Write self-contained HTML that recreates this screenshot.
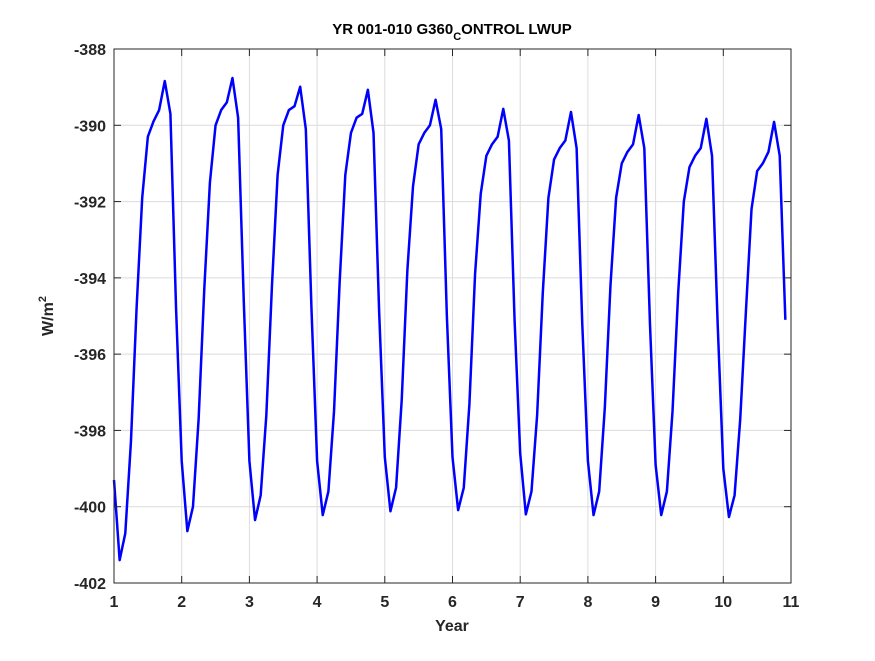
<!DOCTYPE html>
<html><head><meta charset="utf-8"><style>
body{margin:0;background:#fff;}
svg text{font-family:"Liberation Sans","DejaVu Sans",sans-serif;}
</style></head><body>
<svg id="chart" width="875" height="656" viewBox="0 0 875 656" xmlns="http://www.w3.org/2000/svg">
<rect width="875" height="656" fill="#fff"/>
<g id="grid"></g>
<g id="series"></g>
<rect x="114" y="49" width="677" height="534" fill="none" stroke="#262626" stroke-width="1"/>
<g id="ticks"></g>
<text x="452" y="34" text-anchor="middle" font-size="15" font-weight="bold" fill="#000">YR 001-010 G360<tspan font-size="11" dy="6">C</tspan><tspan dy="-6">ONTROL LWUP</tspan></text>
<text x="452" y="631" text-anchor="middle" font-size="16" font-weight="bold" fill="#262626">Year</text>
<text transform="translate(53,316) rotate(-90)" text-anchor="middle" font-size="16" font-weight="bold" fill="#262626">W/m<tspan font-size="11" dy="-7">2</tspan></text>
</svg>
<script>
const xTicks=[1,2,3,4,5,6,7,8,9,10,11];
const yTicks=[-388,-390,-392,-394,-396,-398,-400,-402];
const lwup=[
-399.3,-401.4,-400.7,-398.3,-394.8,-391.9,-390.3,-389.9,-389.6,-388.84,-389.7,-394.8,
-398.8,-400.64,-400.0,-397.7,-394.3,-391.5,-390.0,-389.6,-389.4,-388.76,-389.8,-394.6,
-398.8,-400.35,-399.7,-397.6,-394.2,-391.3,-390.0,-389.6,-389.5,-388.99,-390.1,-394.8,
-398.8,-400.22,-399.6,-397.5,-394.1,-391.3,-390.2,-389.8,-389.7,-389.07,-390.2,-394.9,
-398.7,-400.12,-399.5,-397.2,-393.8,-391.6,-390.5,-390.2,-390.0,-389.33,-390.1,-395.0,
-398.7,-400.09,-399.5,-397.3,-393.9,-391.8,-390.8,-390.5,-390.3,-389.57,-390.4,-395.1,
-398.6,-400.2,-399.6,-397.6,-394.4,-391.9,-390.9,-390.6,-390.4,-389.65,-390.6,-395.2,
-398.8,-400.22,-399.6,-397.4,-394.2,-391.9,-391.0,-390.7,-390.5,-389.73,-390.6,-395.2,
-398.9,-400.22,-399.6,-397.5,-394.4,-392.0,-391.1,-390.8,-390.6,-389.83,-390.8,-395.2,
-399.0,-400.27,-399.7,-397.7,-394.9,-392.2,-391.2,-391.0,-390.7,-389.91,-390.8,-395.1
];
const X0=114,X1=791,Y0=583,Y1=49;
function xs(t){return X0+(t-1)/10*(X1-X0);}
function ys(v){return Y0-(v+402)/14*(Y0-Y1);}
const NS="http://www.w3.org/2000/svg";
const grid=document.getElementById('grid'),ticks=document.getElementById('ticks'),series=document.getElementById('series');
function mk(tag,attrs,parent){const e=document.createElementNS(NS,tag);for(const k in attrs)e.setAttribute(k,attrs[k]);parent.appendChild(e);return e;}
xTicks.forEach(t=>{
 const x=xs(t);
 const g=mk('line',{x1:x,x2:x,y1:Y1,y2:Y0,stroke:'#dcdcdc','stroke-width':1},grid);
 
 
 const tk=mk('line',{x1:x,x2:x,y1:Y0,y2:Y0-7,stroke:'#262626'},ticks);
 
 
 const tk2=mk('line',{x1:x,x2:x,y1:Y1,y2:Y1+7,stroke:'#262626'},ticks);
 
 
 const tx=mk('text',{x:x,y:Y0+24,'text-anchor':'middle','font-size':16,'font-weight':'bold',fill:'#262626'},ticks);
 tx.textContent=t;
 
 
});
yTicks.forEach(v=>{
 const y=ys(v);
 const g=mk('line',{x1:X0,x2:X1,y1:y,y2:y,stroke:'#dcdcdc','stroke-width':1},grid);
 
 
 const tk=mk('line',{x1:X0,x2:X0+7,y1:y,y2:y,stroke:'#262626'},ticks);
 
 
 const tk2=mk('line',{x1:X1,x2:X1-7,y1:y,y2:y,stroke:'#262626'},ticks);
 
 
 const tx=mk('text',{x:X0-8,y:y+6,'text-anchor':'end','font-size':16,'font-weight':'bold',fill:'#262626'},ticks);
 tx.textContent=v;
 
 
});
const pts=lwup.map((v,i)=>xs(1+i/12).toFixed(2)+','+ys(v).toFixed(2)).join(' ');
const pl=mk('polyline',{points:pts,fill:'none',stroke:'#0000ff','stroke-width':2.5,'stroke-linejoin':'round'},series);


</script>
</body></html>
